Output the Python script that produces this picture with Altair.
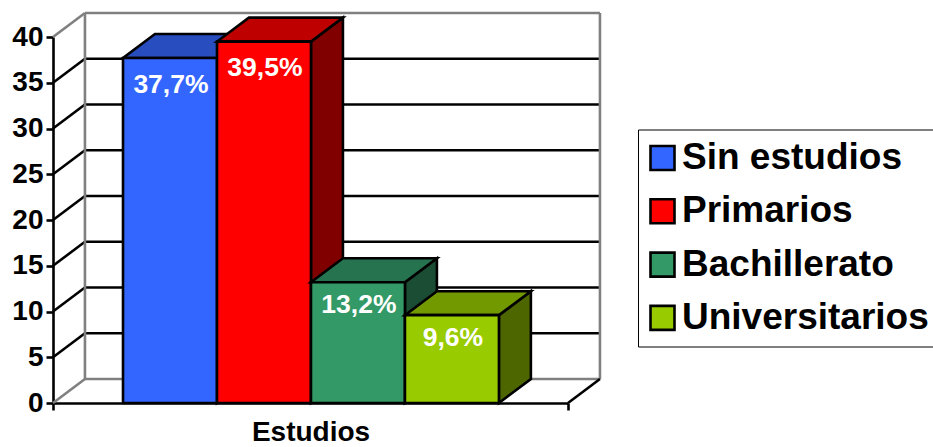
import altair as alt
import pandas as pd

# Education level shares shown as pseudo-3D columns
categories = ["Sin estudios", "Primarios", "Bachillerato", "Universitarios"]
values = [37.7, 39.5, 13.2, 9.6]
front_colors = ["#3366FF", "#FF0000", "#339966", "#99CC00"]
top_colors = ["#274DBF", "#BF0000", "#267350", "#739900"]
side_colors = ["#1A3380", "#800000", "#1A4D33", "#4D6600"]
y_ticks = [0, 5, 10, 15, 20, 25, 30, 35, 40]
label_drops = [3.0, 2.9, 2.5, 2.5]

FONT = "Liberation Sans"
LINE = 2.6
PLOT_W, PLOT_H = 515, 366

# One column is one x unit wide; the depth vector is shared by walls and columns
X_MAX = 5.48
FIRST_BAR = 0.745
DEPTH_X = 0.34
DEPTH_Y = 2.62

x_scale = alt.Scale(domain=[0, X_MAX], nice=False, zero=False)
y_scale = alt.Scale(domain=[0, 40], nice=False, zero=False)
color_scale = alt.Scale(domain=categories, range=front_colors)

# Wall, floor and grid segments of the box behind the columns
segments = []
for t in y_ticks:
    colour = "#808080" if t in (0, 40) else "#000000"
    segments.append((0, DEPTH_X, t, t + DEPTH_Y, colour))
    segments.append((DEPTH_X, X_MAX + DEPTH_X, t + DEPTH_Y, t + DEPTH_Y, colour))
segments.append((DEPTH_X, DEPTH_X, DEPTH_Y, 40 + DEPTH_Y, "#808080"))
segments.append((X_MAX + DEPTH_X, X_MAX + DEPTH_X, DEPTH_Y, 40 + DEPTH_Y, "#808080"))
segments.append((X_MAX, X_MAX + DEPTH_X, 0, DEPTH_Y, "#000000"))
walls_df = pd.DataFrame(segments, columns=["x", "x2", "y", "y2", "colour"])

walls = alt.Chart(walls_df).mark_rule(strokeWidth=LINE).encode(
    x=alt.X("x:Q", scale=x_scale, axis=alt.Axis(
        values=[0, X_MAX], labels=False, title="Estudios", grid=False,
        domainColor="black", domainWidth=LINE, tickColor="black", tickWidth=LINE,
        tickSize=7, titleFont=FONT, titleFontSize=28, titleFontWeight="bold",
        titleColor="black", titlePadding=7)),
    x2="x2:Q",
    y=alt.Y("y:Q", scale=y_scale, axis=alt.Axis(
        values=y_ticks, title=None, grid=False, domainColor="black",
        domainWidth=LINE, tickColor="black", tickWidth=LINE, tickSize=7,
        labelFont=FONT, labelFontSize=28, labelFontWeight="bold",
        labelColor="black", labelPadding=3)),
    y2="y2:Q",
    color=alt.Color("colour:N", scale=None),
)

layers = [walls]
for i, (name, v) in enumerate(zip(categories, values)):
    left = FIRST_BAR + i
    right = left + 1

    side = pd.DataFrame({
        "x": [right, right + DEPTH_X],
        "low": [0, DEPTH_Y],
        "high": [v, v + DEPTH_Y],
    })
    top = pd.DataFrame({
        "x": [left, left + DEPTH_X, right, right + DEPTH_X],
        "low": [v, v, v, v + DEPTH_Y],
        "high": [v, v + DEPTH_Y, v + DEPTH_Y, v + DEPTH_Y],
    })
    front = pd.DataFrame({"x": [left], "x2": [right], "low": [0], "high": [v], "level": [name]})

    for frame, colour in ((side, side_colors[i]), (top, top_colors[i])):
        layers.append(
            alt.Chart(frame).mark_area(
                interpolate="linear", stroke="black", strokeWidth=LINE,
                strokeJoin="miter", color=colour, opacity=1,
            ).encode(
                x=alt.X("x:Q", scale=x_scale),
                y=alt.Y("low:Q", scale=y_scale),
                y2="high:Q",
            )
        )

    layers.append(
        alt.Chart(front).mark_rect(stroke="black", strokeWidth=LINE).encode(
            x=alt.X("x:Q", scale=x_scale),
            x2="x2:Q",
            y=alt.Y("low:Q", scale=y_scale),
            y2="high:Q",
            color=alt.Color("level:N", scale=color_scale, legend=alt.Legend(
                title=None, orient="none", legendX=585, legendY=92.5,
                symbolType="square", symbolSize=576, symbolStrokeColor="black",
                symbolStrokeWidth=LINE, symbolOpacity=1, symbolOffset=-4,
                labelFont=FONT, labelFontSize=37, labelFontWeight="bold",
                labelColor="black", labelOffset=1, labelLimit=400,
                rowPadding=15.3, padding=10, strokeColor="black",
                fillColor="white")),
        )
    )

# Value captions inside each column
labels_df = pd.DataFrame({
    "x": [FIRST_BAR + i + 0.51 for i in range(len(values))],
    "y": [v - d for v, d in zip(values, label_drops)],
    "text": [f"{v:.1f}%".replace(".", ",") for v in values],
})
layers.append(
    alt.Chart(labels_df).mark_text(
        font=FONT, fontSize=26.5, fontWeight="bold", color="white",
        align="center", baseline="middle",
    ).encode(
        x=alt.X("x:Q", scale=x_scale),
        y=alt.Y("y:Q", scale=y_scale),
        text="text:N",
    )
)

chart = alt.layer(*layers).properties(
    width=PLOT_W,
    height=PLOT_H,
    background="white",
    autosize=alt.AutoSizeParams(type="none"),
    padding={"left": 53, "top": 37, "right": 365, "bottom": 44},
).configure_view(stroke=None)

chart.save("out.html", embed_options={"renderer": "svg", "actions": False})
